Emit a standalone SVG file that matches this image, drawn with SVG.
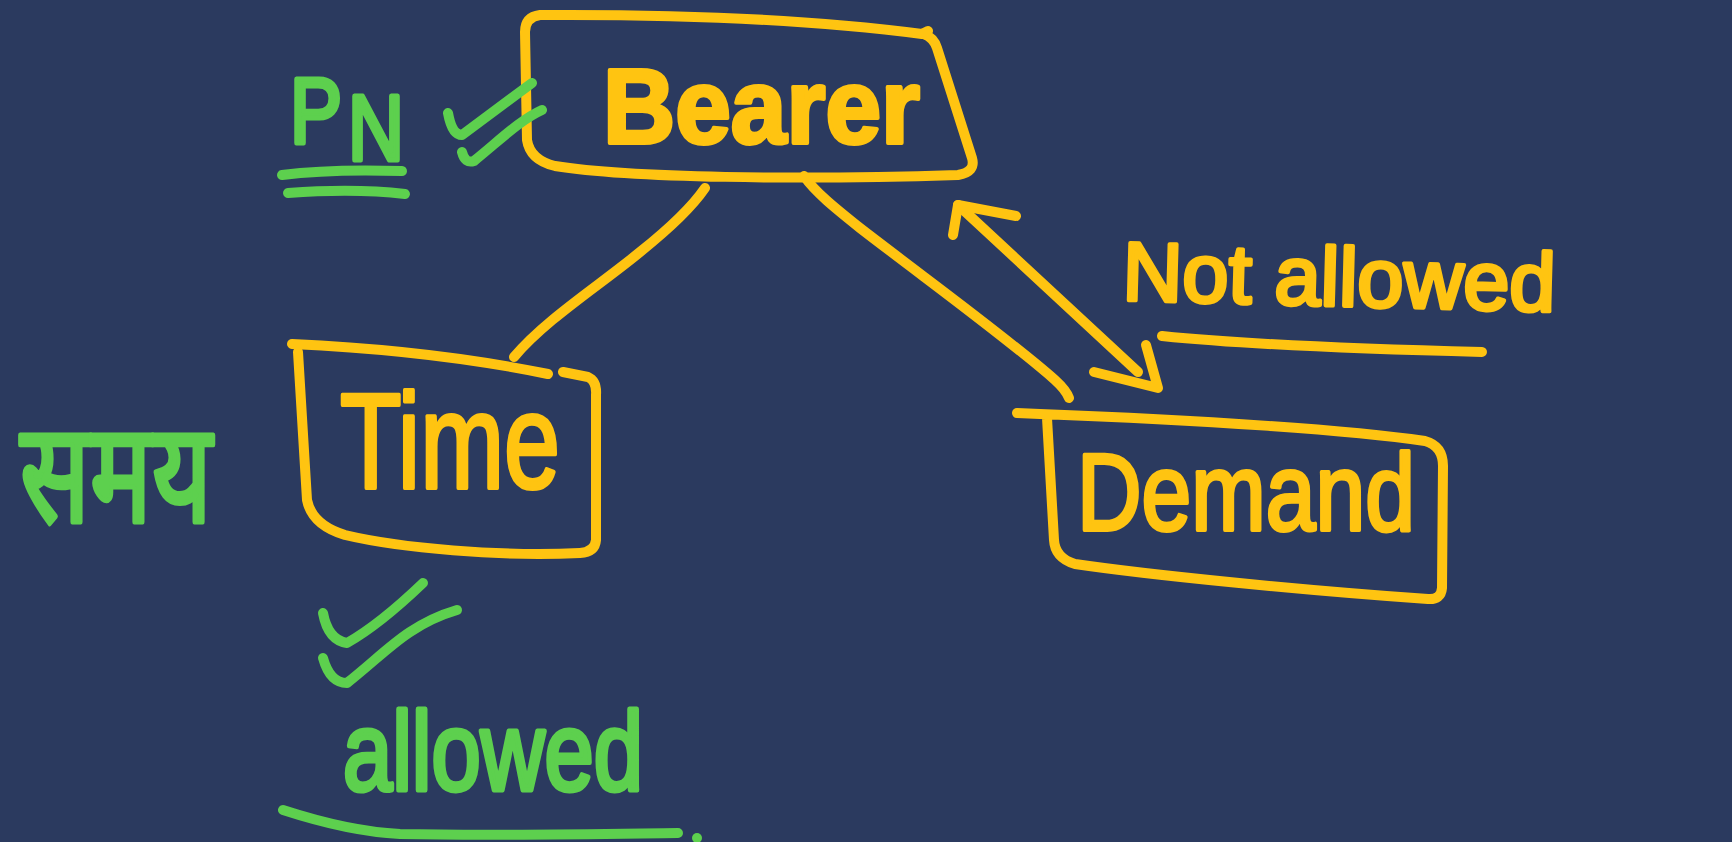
<svg xmlns="http://www.w3.org/2000/svg" width="1732" height="842" viewBox="0 0 1732 842">
<style>
.y{fill:none;stroke:#ffc411;stroke-width:10;stroke-linecap:round;stroke-linejoin:round}
.g{fill:none;stroke:#5dd04e;stroke-width:10;stroke-linecap:round;stroke-linejoin:round}
.yt{fill:#ffc411;stroke:#ffc411;stroke-width:4;stroke-linejoin:round;font-family:"Liberation Sans",Arial,sans-serif}
.gt{fill:#5dd04e;stroke:#5dd04e;stroke-width:5;stroke-linejoin:round;font-family:"Liberation Sans",Arial,sans-serif}
</style>
<rect width="1732" height="842" fill="#2b3a5f"/>
<g id="connectors">
<path class="y" d="M705,188 C690,210 665,232 640,252 C600,285 545,320 514,357"/>
<path class="y" d="M804,176 C815,192 835,208 860,228 C930,282 1010,340 1055,380 Q1066,390 1069,398"/>
<path class="y" d="M958,205 L1138,372"/>
<path class="y" d="M958,205 L953,235 M958,205 L1016,216"/>
<path class="y" d="M1094,372 L1158,388 L1146,345"/>
</g>
<g id="bearer">
<path class="y" d="M540,15 C700,14 830,22 922,34 L928,31 M924,34 Q934,38 937,48 L972,158 Q976,172 958,175 C800,180 630,178 555,166 Q530,160 527,140 L525,32 Q525,17 540,15"/>
<text class="yt" x="603" y="143" font-size="106" font-weight="bold" textLength="317" lengthAdjust="spacingAndGlyphs">Bearer</text>
</g>
<g id="time">
<path class="y" d="M292,344 C380,348 470,358 548,374"/>
<path class="y" d="M563,372 L588,377 Q597,381 596,395 L596,540 Q595,552 580,553 C500,557 400,548 345,535 Q312,525 307,500 L298,352"/>
<text class="yt" x="340" y="488" font-size="135" textLength="220" lengthAdjust="spacingAndGlyphs">Time</text>
</g>
<g id="demand">
<path class="y" d="M1017,413 L1040,414 C1200,420 1350,430 1425,441 Q1443,446 1443,466 L1442,588 Q1441,600 1428,599 C1300,590 1150,575 1075,564 Q1055,558 1054,540 L1047,418"/>
<text class="yt" x="1077" y="530" font-size="110" textLength="338" lengthAdjust="spacingAndGlyphs">Demand</text>
</g>
<g id="not-allowed">
<text class="yt" x="1122" y="300" font-size="83" textLength="433" lengthAdjust="spacingAndGlyphs" transform="rotate(1.5 1122 300)">Not allowed</text>
<path class="y" d="M1162,336 C1250,345 1400,350 1482,352"/>
</g>
<g id="pn">
<text class="gt" font-size="92"><tspan x="290" y="143" textLength="52" lengthAdjust="spacingAndGlyphs">P</tspan><tspan x="348" y="160" textLength="56" lengthAdjust="spacingAndGlyphs">N</tspan></text>
<path class="g" d="M282,175 C320,170 370,170 402,171"/>
<path class="g" d="M288,193 C330,190 370,190 405,194"/>
<path class="g" d="M448,113 Q452,135 462,135 L532,83"/>
<path class="g" d="M462,152 Q465,164 474,161 C500,140 520,120 542,110"/>
</g>
<g id="samay">
<text class="gt" x="20" y="522" font-size="140" textLength="192" lengthAdjust="spacingAndGlyphs" font-family="'Noto Sans Devanagari','Noto Sans',sans-serif">समय</text>
</g>
<g id="allowed">
<path class="g" d="M323,613 Q328,640 347,643 C370,630 400,605 423,583"/>
<path class="g" d="M323,658 Q330,683 347,683 C370,665 390,645 410,632 C425,622 440,615 457,610"/>
<text class="gt" x="343" y="790" font-size="112" textLength="300" lengthAdjust="spacingAndGlyphs">allowed</text>
<path class="g" d="M283,810 C320,822 360,832 400,834 C500,836 600,834 678,833"/>
<circle cx="697" cy="838" r="5" fill="#5dd04e"/>
</g>
</svg>
